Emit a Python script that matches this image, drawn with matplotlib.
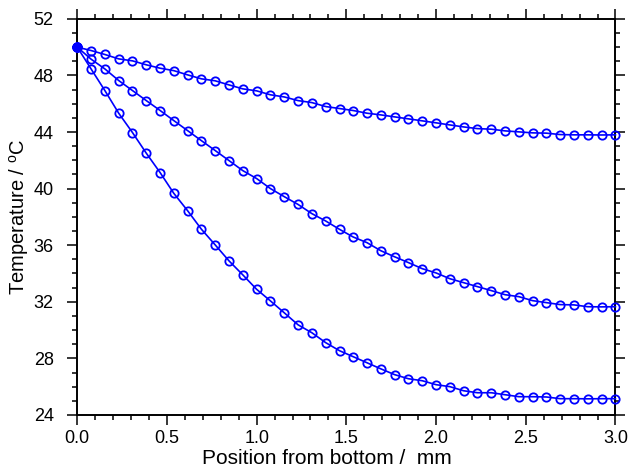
import matplotlib
matplotlib.use("Agg")
import matplotlib.pyplot as plt
from matplotlib.ticker import MultipleLocator

plt.rcParams['font.family'] = ['Liberation Sans', 'DejaVu Sans']

# Positions along the sample (mm)
position_mm = [0.000, 0.077, 0.154, 0.231, 0.308, 0.385, 0.462, 0.538, 0.615, 0.692,
               0.769, 0.846, 0.923, 1.000, 1.077, 1.154, 1.231, 1.308, 1.385, 1.462,
               1.538, 1.615, 1.692, 1.769, 1.846, 1.923, 2.000, 2.077, 2.154, 2.231,
               2.308, 2.385, 2.462, 2.538, 2.615, 2.692, 2.769, 2.846, 2.923, 3.000]

# Temperature profiles (°C)
temp_upper = [50.00, 49.76, 49.48, 49.17, 49.03, 48.75, 48.51, 48.34, 48.04, 47.76,
              47.62, 47.33, 47.05, 46.91, 46.63, 46.48, 46.22, 46.08, 45.80, 45.66,
              45.52, 45.33, 45.21, 45.07, 44.93, 44.79, 44.65, 44.50, 44.36, 44.24,
              44.20, 44.08, 44.01, 43.94, 43.92, 43.82, 43.80, 43.80, 43.79, 43.80]

temp_middle = [50.00, 49.15, 48.46, 47.64, 46.93, 46.22, 45.52, 44.81, 44.10, 43.39,
               42.69, 41.98, 41.27, 40.71, 40.00, 39.43, 38.88, 38.23, 37.71, 37.12,
               36.58, 36.18, 35.61, 35.18, 34.77, 34.34, 34.04, 33.63, 33.35, 33.07,
               32.79, 32.50, 32.36, 32.08, 31.94, 31.80, 31.78, 31.65, 31.64, 31.65]

temp_lower = [50.00, 48.46, 46.93, 45.33, 43.96, 42.50, 41.13, 39.67, 38.44, 37.13,
              36.02, 34.89, 33.90, 32.88, 32.06, 31.22, 30.37, 29.81, 29.11, 28.54,
              28.12, 27.69, 27.26, 26.85, 26.56, 26.42, 26.14, 26.00, 25.71, 25.57,
              25.57, 25.43, 25.29, 25.29, 25.27, 25.15, 25.15, 25.14, 25.15, 25.15]

x_ticks = [0.0, 0.5, 1.0, 1.5, 2.0, 2.5, 3.0]
y_ticks = [24, 28, 32, 36, 40, 44, 48, 52]

fig = plt.figure(figsize=(6.28, 4.71), dpi=100)
ax = fig.add_axes([0.123, 0.119, 0.857, 0.841])

for temps in (temp_upper, temp_middle, temp_lower):
    ax.plot(position_mm, temps, color='#0000ff', lw=1.2, marker='o',
            markersize=6.0, markerfacecolor='none', markeredgewidth=1.3,
            clip_on=False, zorder=3)
# filled start point shared by all profiles
ax.plot([position_mm[0]], [temp_upper[0]], 'o', color='#0000ff', markersize=6.5,
        clip_on=False, zorder=4)

ax.set_xlim(0, 3.0)
ax.set_ylim(24, 52)
ax.set_xticks(x_ticks)
ax.set_xticklabels([f"{v:.1f}" for v in x_ticks])
ax.set_yticks(y_ticks)
ax.xaxis.set_minor_locator(MultipleLocator(0.1))
ax.yaxis.set_minor_locator(MultipleLocator(1))

for side in ('left', 'right', 'top', 'bottom'):
    ax.spines[side].set_linewidth(1.4)

ax.tick_params(which='both', direction='out', top=True, right=True,
               labeltop=False, labelright=False, width=1.1, labelsize=13)
ax.tick_params(which='major', length=7)
ax.tick_params(which='minor', length=3.8)
ax.tick_params(axis='y', which='major', pad=10)
ax.tick_params(axis='x', which='major', pad=4)

ax.set_xlabel("Position from bottom /  mm", fontsize=15, labelpad=0)
ax.xaxis.set_label_coords(0.463, -0.085)
ax.set_ylabel(r"Temperature / $\mathregular{^{o}}$C", fontsize=14.5, labelpad=2)

fig.savefig("out.png", dpi=100)
